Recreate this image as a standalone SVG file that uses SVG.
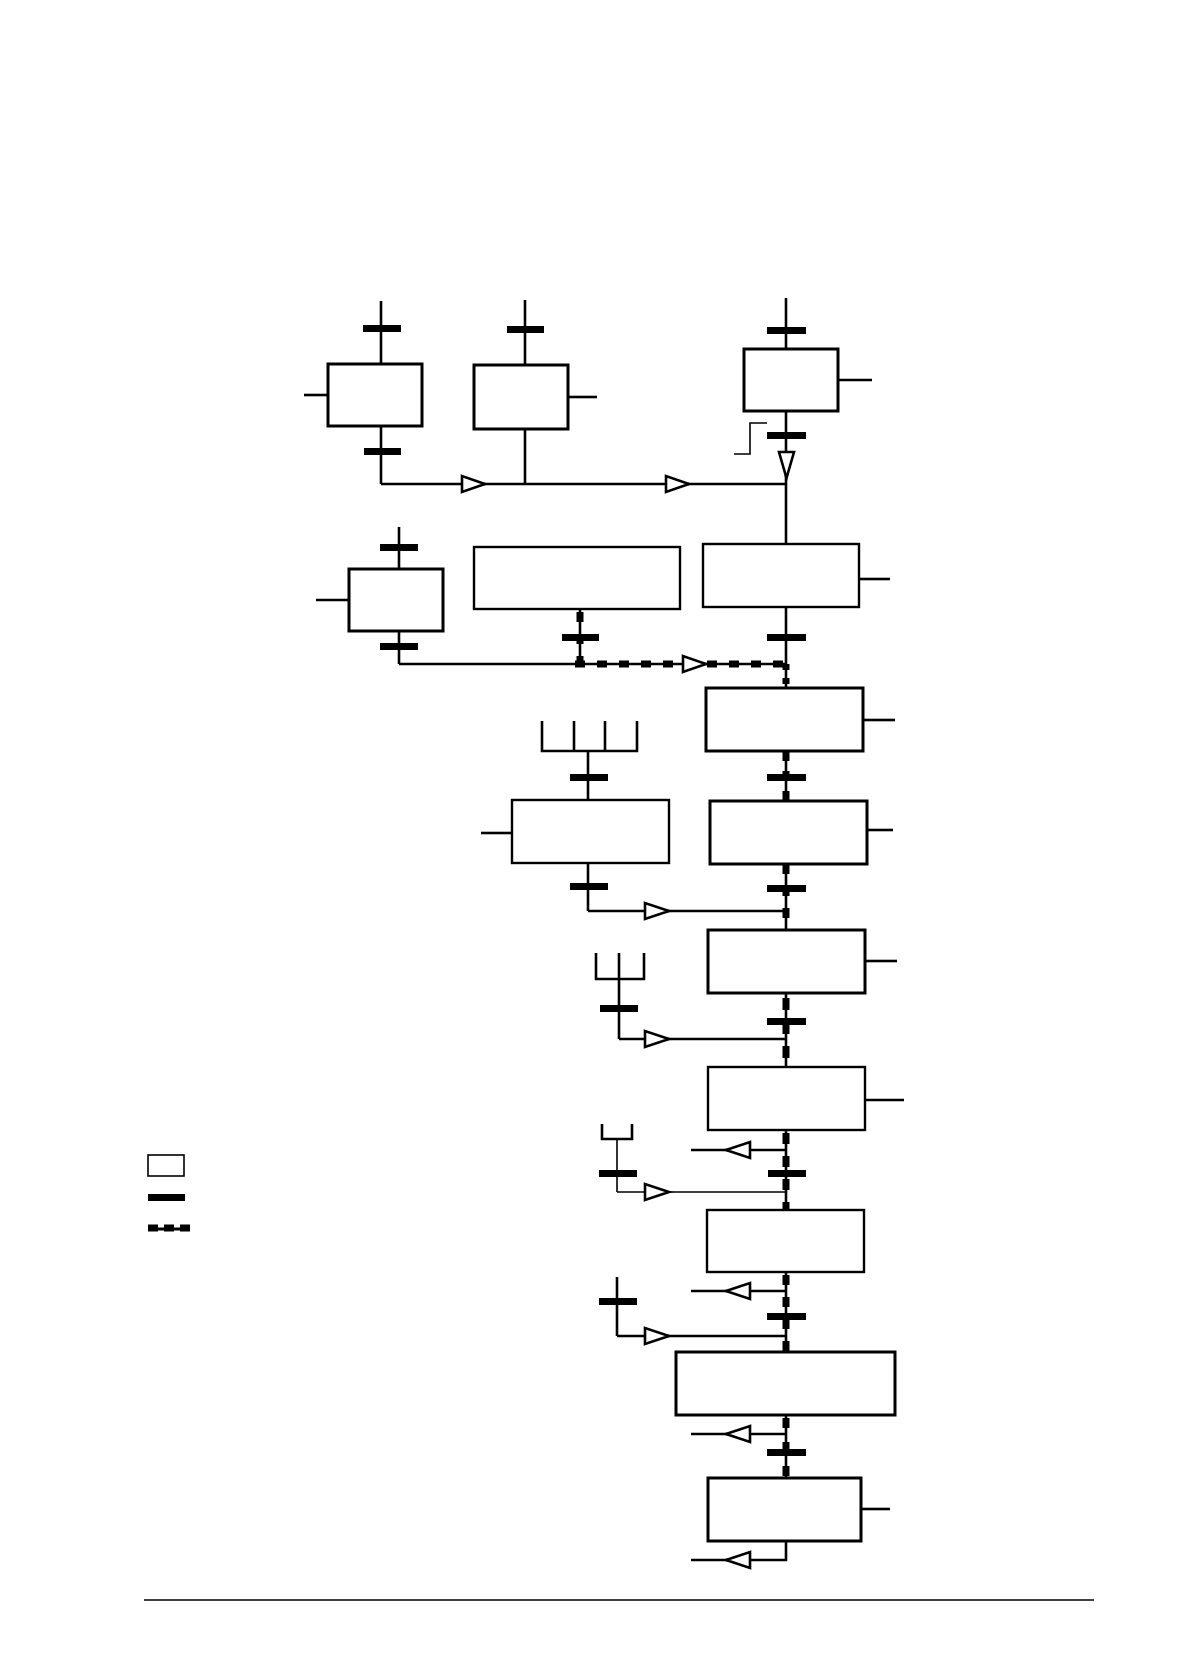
<svg xmlns="http://www.w3.org/2000/svg" width="1182" height="1680" viewBox="0 0 1182 1680">
<style>
.box{fill:#fff;stroke:#000;stroke-width:3}
.ln{fill:none;stroke:#000;stroke-width:2.6}
.thin{fill:none;stroke:#000;stroke-width:1.6}
.bar{fill:#000}
.tri{fill:#fff;stroke:#000;stroke-width:2.6;stroke-linejoin:miter}
.dsh{fill:none;stroke:#000;stroke-width:7;stroke-dasharray:10 12}
</style>
<rect width="1182" height="1680" fill="#fff"/>
<g id="connectors">
<!-- top row -->
<line class="ln" x1="381" y1="301" x2="381" y2="364"/>
<line class="ln" x1="304" y1="395" x2="328" y2="395"/>
<line class="ln" x1="381" y1="426" x2="381" y2="484"/>
<line class="ln" x1="381" y1="484" x2="786" y2="484"/>
<line class="ln" x1="525" y1="300" x2="525" y2="365"/>
<line class="ln" x1="568" y1="397" x2="597" y2="397"/>
<line class="ln" x1="525" y1="429" x2="525" y2="484"/>
<line class="ln" x1="786" y1="298" x2="786" y2="349"/>
<line class="ln" x1="838" y1="380" x2="872" y2="380"/>
<line class="ln" x1="786" y1="411" x2="786" y2="544"/>
<polyline class="thin" points="734,454 750,454 750,423 767,423"/>
<rect class="bar" x="363" y="325" width="38" height="7"/>
<rect class="bar" x="364" y="448" width="37" height="7"/>
<rect class="bar" x="507" y="326" width="37" height="7"/>
<rect class="bar" x="767" y="327" width="39" height="7"/>
<rect class="bar" x="767" y="432" width="39" height="7"/>
<polygon class="tri" points="462,476 462,492 485,484"/>
<polygon class="tri" points="666,476 666,492 689,484"/>
<polygon class="tri" points="779,452 794,452 786.5,478"/>
<!-- second row -->
<line class="ln" x1="399" y1="527" x2="399" y2="569"/>
<line class="ln" x1="316" y1="600" x2="349" y2="600"/>
<line class="ln" x1="399" y1="631" x2="399" y2="664"/>
<line class="ln" x1="399" y1="664" x2="580" y2="664"/>
<rect class="bar" x="380" y="544" width="38" height="7"/>
<rect class="bar" x="380" y="643" width="38" height="7"/>
<line class="ln" x1="580" y1="609" x2="580" y2="664"/>
<line class="dsh" x1="580" y1="612" x2="580" y2="664"/>
<rect class="bar" x="562" y="634" width="37" height="7"/>
<line class="ln" x1="580" y1="664" x2="786" y2="664"/>
<line class="dsh" x1="575" y1="664" x2="786" y2="664"/>
<line class="ln" x1="859" y1="579" x2="890" y2="579"/>
<line class="ln" x1="786" y1="607" x2="786" y2="664"/>
<rect class="bar" x="767" y="634" width="39" height="7"/>
<polygon class="tri" points="683,656 683,672 706,664"/>
<line class="ln" x1="786" y1="664" x2="786" y2="688"/>
<line class="dsh" x1="786" y1="664" x2="786" y2="688" style="stroke-dasharray:6 8"/>
<line class="ln" x1="863" y1="720" x2="895" y2="720"/>
<!-- H to I -->
<line class="ln" x1="786" y1="751" x2="786" y2="801"/>
<line class="dsh" x1="786" y1="751" x2="786" y2="801" style="stroke-dasharray:10 10"/>
<rect class="bar" x="767" y="774" width="39" height="7"/>
<polyline class="ln" points="542,721 542,751 637,751 637,721"/>
<line class="ln" x1="574" y1="721" x2="574" y2="751"/>
<line class="ln" x1="605" y1="721" x2="605" y2="751"/>
<line class="ln" x1="588" y1="751" x2="588" y2="800"/>
<rect class="bar" x="570" y="774" width="38" height="7"/>
<line class="ln" x1="481" y1="833" x2="512" y2="833"/>
<line class="ln" x1="588" y1="863" x2="588" y2="911"/>
<rect class="bar" x="570" y="883" width="38" height="7"/>
<line class="ln" x1="588" y1="911" x2="786" y2="911"/>
<polygon class="tri" points="645,903 645,919 669,911"/>
<line class="ln" x1="867" y1="830" x2="893" y2="830"/>
<!-- I to K -->
<line class="ln" x1="786" y1="864" x2="786" y2="930"/>
<line class="dsh" x1="786" y1="864" x2="786" y2="930" style="stroke-dasharray:10 12"/>
<rect class="bar" x="767" y="885" width="39" height="7"/>
<line class="ln" x1="865" y1="961" x2="897" y2="961"/>
<!-- K to L -->
<line class="ln" x1="786" y1="993" x2="786" y2="1067"/>
<line class="dsh" x1="786" y1="998" x2="786" y2="1067" style="stroke-dasharray:12 12"/>
<rect class="bar" x="767" y="1018" width="39" height="7"/>
<polyline class="ln" points="596,953 596,979 644,979 644,953"/>
<line class="ln" x1="619" y1="953" x2="619" y2="1039"/>
<rect class="bar" x="600" y="1005" width="38" height="7"/>
<line class="ln" x1="619" y1="1039" x2="786" y2="1039"/>
<polygon class="tri" points="645,1031 645,1047 669,1039"/>
<line class="ln" x1="865" y1="1100" x2="904" y2="1100"/>
<!-- L to M -->
<line class="ln" x1="786" y1="1130" x2="786" y2="1210"/>
<line class="dsh" x1="786" y1="1133" x2="786" y2="1210" style="stroke-dasharray:11 12"/>
<rect class="bar" x="768" y="1170" width="38" height="7"/>
<line class="ln" x1="691" y1="1150" x2="786" y2="1150"/>
<polygon class="tri" points="750,1142 750,1158 726,1150"/>
<polyline class="ln" points="602,1124 602,1139 632,1139 632,1124"/>
<line class="thin" x1="617" y1="1139" x2="617" y2="1192"/>
<rect class="bar" x="599" y="1170" width="38" height="7"/>
<line class="thin" x1="617" y1="1192" x2="786" y2="1192"/>
<polygon class="tri" points="645,1184 645,1200 669,1192"/>
<!-- M to N -->
<line class="ln" x1="786" y1="1272" x2="786" y2="1352"/>
<line class="dsh" x1="786" y1="1275" x2="786" y2="1352" style="stroke-dasharray:10 12"/>
<rect class="bar" x="767" y="1313" width="39" height="7"/>
<line class="ln" x1="691" y1="1291" x2="786" y2="1291"/>
<polygon class="tri" points="750,1283 750,1299 726,1291"/>
<line class="ln" x1="617" y1="1277" x2="617" y2="1336"/>
<rect class="bar" x="599" y="1298" width="38" height="7"/>
<line class="ln" x1="617" y1="1336" x2="786" y2="1336"/>
<polygon class="tri" points="645,1328 645,1344 669,1336"/>
<!-- N to O -->
<line class="ln" x1="786" y1="1415" x2="786" y2="1478"/>
<line class="dsh" x1="786" y1="1418" x2="786" y2="1478" style="stroke-dasharray:10 14"/>
<rect class="bar" x="767" y="1449" width="39" height="7"/>
<line class="ln" x1="691" y1="1434" x2="786" y2="1434"/>
<polygon class="tri" points="750,1426 750,1442 726,1434"/>
<line class="ln" x1="861" y1="1509" x2="890" y2="1509"/>
<polyline class="ln" points="786,1541 786,1560 691,1560"/>
<polygon class="tri" points="750,1552 750,1568 726,1560"/>
</g>
<g id="nodeA"><rect class="box" x="328" y="364" width="94" height="62"/></g>
<g id="nodeB"><rect class="box" x="474" y="365" width="94" height="64"/></g>
<g id="nodeC"><rect class="box" x="744" y="349" width="94" height="62"/></g>
<g id="nodeE"><rect class="box" x="349" y="569" width="94" height="62"/></g>
<g id="nodeF"><rect class="box" x="474" y="547" width="206" height="62" style="stroke-width:2.4"/></g>
<g id="nodeG"><rect class="box" x="703" y="544" width="156" height="63" style="stroke-width:2.4"/></g>
<g id="nodeH"><rect class="box" x="706" y="688" width="157" height="63"/></g>
<g id="nodeJ"><rect class="box" x="512" y="800" width="157" height="63" style="stroke-width:2.4"/></g>
<g id="nodeI"><rect class="box" x="710" y="801" width="157" height="63"/></g>
<g id="nodeK"><rect class="box" x="708" y="930" width="157" height="63"/></g>
<g id="nodeL"><rect class="box" x="708" y="1067" width="157" height="63" style="stroke-width:2.4"/></g>
<g id="nodeM"><rect class="box" x="707" y="1210" width="157" height="62" style="stroke-width:2.4"/></g>
<g id="nodeN"><rect class="box" x="676" y="1352" width="219" height="63"/></g>
<g id="nodeO"><rect class="box" x="708" y="1478" width="153" height="63"/></g>
<g id="legend">
<rect x="148" y="1155" width="36" height="21" fill="#fff" stroke="#000" stroke-width="1.6"/>
<rect class="bar" x="148" y="1194" width="37" height="7"/>
<line x1="148" y1="1229" x2="188" y2="1229" stroke="#000" stroke-width="3"/>
<line x1="148" y1="1228" x2="190" y2="1228" stroke="#000" stroke-width="7" stroke-dasharray="10 6"/>
</g>
<line x1="144" y1="1600" x2="1094" y2="1600" stroke="#000" stroke-width="1.4"/>
</svg>
